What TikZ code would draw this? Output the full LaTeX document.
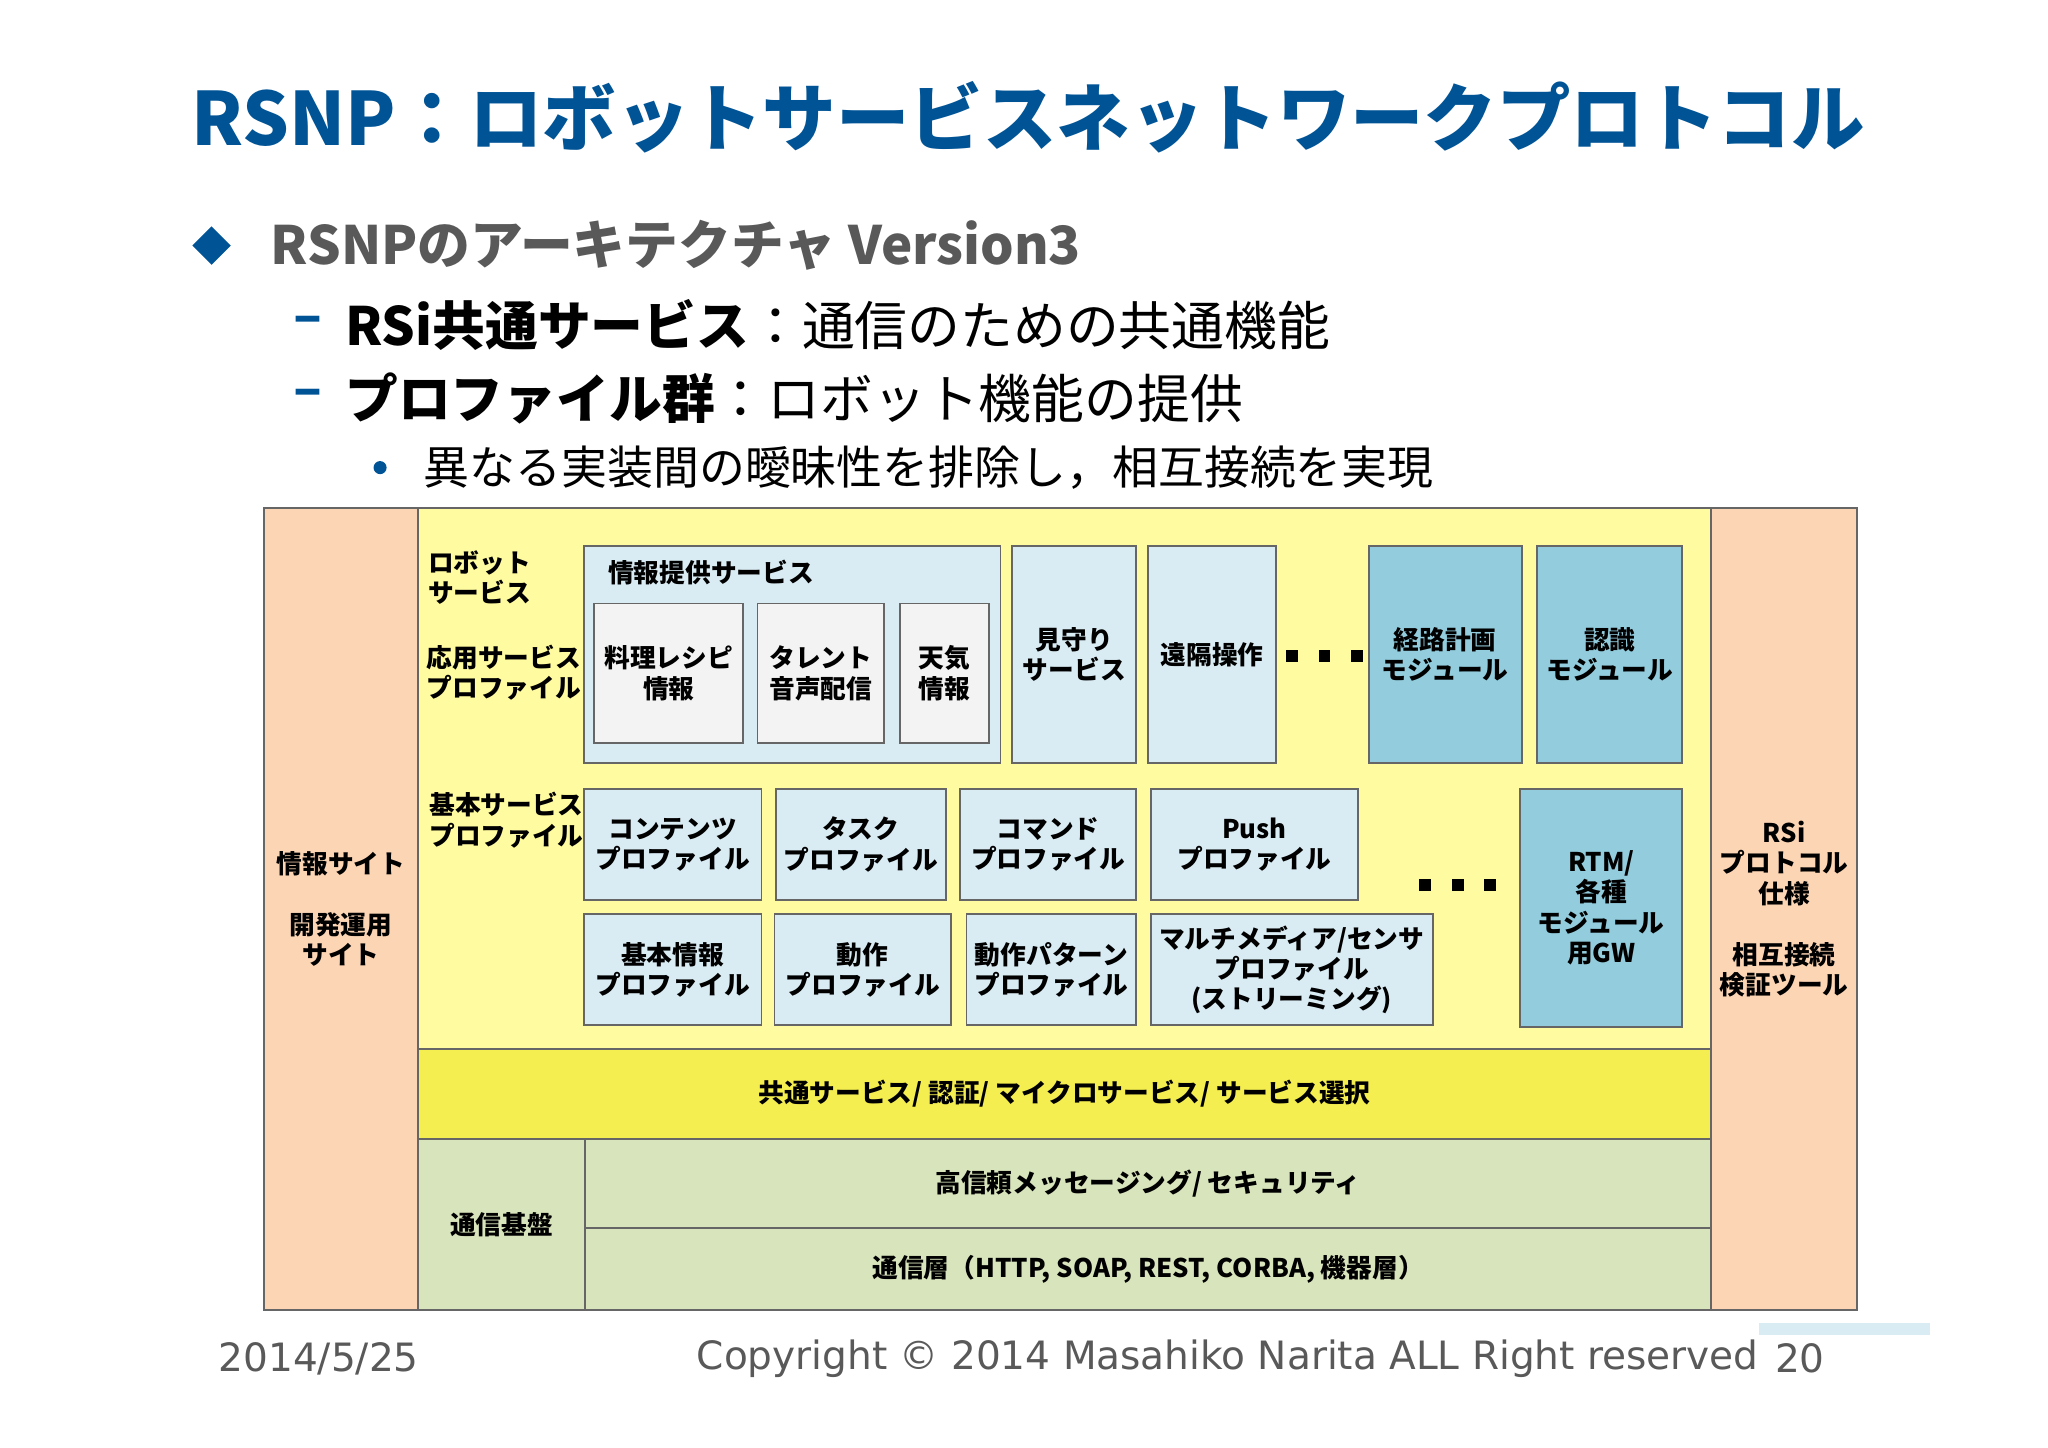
\documentclass[tikz,border=0pt]{standalone}
\usepackage{fontspec}
\usetikzlibrary{shapes.geometric}
\setmainfont{Noto Sans CJK JP}
\newfontfamily\dejavu{DejaVu Sans}
\definecolor{tblue}{RGB}{0,84,150}
\definecolor{orng}{RGB}{252,213,181}
\definecolor{ylw}{RGB}{255,251,160}
\definecolor{ylw2}{RGB}{244,238,80}
\definecolor{grn}{RGB}{216,228,188}
\definecolor{lblue}{RGB}{218,236,243}
\definecolor{dblue}{RGB}{146,204,221}
\definecolor{lgray}{RGB}{243,243,243}
\definecolor{txtgray}{RGB}{89,89,89}
\tikzset{
 bx/.style={draw=black!60,line width=0.4pt,align=center,font=\fontsize{5.6}{6.6}\selectfont\bfseries},
 lb/.style={align=left,anchor=north west,inner sep=0pt,font=\fontsize{5.6}{6.6}\selectfont\bfseries},
 ct/.style={align=center,inner sep=0pt,font=\fontsize{5.6}{6.6}\selectfont\bfseries},
}
\newcommand{\rb}[6]{\node[bx,fill=#5,minimum width=#3cm-#1cm,minimum height=#4cm-#2cm,inner sep=0pt] (#6) at ({(#1+#3)/2},{-(#2+#4)/2}) {};}
\begin{document}
\begin{tikzpicture}[x=1cm,y=1cm]
\useasboundingbox[fill=white] (0,0) rectangle (15.68,-11.08);
% title
\node[font=\fontsize{16}{18}\selectfont\bfseries,text=tblue] (title) at (7.87,-0.9) {RSNP：ロボットサービスネットワークプロトコル};
\node[fill=tblue,diamond,inner sep=0pt,minimum size=0.3cm,shape aspect=1] (dia) at (1.62,-1.88) {};
\node[anchor=west,font=\fontsize{11.5}{13}\selectfont\bfseries,text=txtgray] (t1) at (1.95,-1.88) {RSNPのアーキテクチャ Version3};
\node[anchor=west,font=\fontsize{11.5}{13}\selectfont\bfseries,text=tblue] (d1) at (2.12,-2.49) {–};
\node[anchor=west,font=\fontsize{11.5}{13}\selectfont] (t2) at (2.52,-2.49) {\textbf{RSi共通サービス}：通信のための共通機能};
\node[anchor=west,font=\fontsize{11.5}{13}\selectfont\bfseries,text=tblue] (d2) at (2.12,-3.05) {–};
\node[anchor=west,font=\fontsize{11.5}{13}\selectfont] (t3) at (2.52,-3.05) {\textbf{プロファイル群}：ロボット機能の提供};
\fill[tblue] (2.91,-3.58) circle (0.05);
\node[anchor=west,font=\fontsize{10}{12}\selectfont] (t4) at (3.12,-3.58) {異なる実装間の曖昧性を排除し，相互接続を実現};
% main frame
\rb{2.02}{3.89}{3.20}{10.03}{orng}{L}
\rb{13.10}{3.89}{14.22}{10.03}{orng}{R}
\rb{3.20}{3.89}{13.10}{8.03}{ylw}{Y}
\rb{3.20}{8.03}{13.10}{8.72}{ylw2}{Y2}
\rb{3.20}{8.72}{4.48}{10.03}{grn}{G0}
\rb{4.48}{8.72}{13.10}{9.40}{grn}{G1}
\rb{4.48}{9.40}{13.10}{10.03}{grn}{G2}
\node[ct] at (L) {情報サイト\\[1.2em]開発運用\\サイト};
\node[ct] at (R) {RSi\\プロトコル\\仕様\\[1.2em]相互接続\\検証ツール};
\node[ct] at (Y2) {共通サービス/ 認証/ マイクロサービス/ サービス選択};
\node[ct] at (G0) {通信基盤};
\node[ct] at (G1) {高信頼メッセージング/ セキュリティ};
\node[ct] at (G2) {通信層（HTTP, SOAP, REST, CORBA, 機器層）};
\node[lb] at (3.27,-4.21) {ロボット\\サービス};
\node[lb] at (3.26,-4.93) {応用サービス\\プロファイル};
\node[lb] at (3.28,-6.06) {基本サービス\\プロファイル};
% row 1
\rb{4.47}{4.18}{7.66}{5.84}{lblue}{info}
\node[lb] at (4.65,-4.28) {情報提供サービス};
\rb{4.55}{4.62}{5.69}{5.69}{lgray}{a1}\node[ct] at (a1) {料理レシピ\\情報};
\rb{5.80}{4.62}{6.77}{5.69}{lgray}{a2}\node[ct] at (a2) {タレント\\音声配信};
\rb{6.89}{4.62}{7.57}{5.69}{lgray}{a3}\node[ct] at (a3) {天気\\情報};
\rb{7.75}{4.18}{8.70}{5.84}{lblue}{a4}\node[ct] at (a4) {見守り\\サービス};
\rb{8.79}{4.18}{9.77}{5.84}{lblue}{a5}\node[ct] at (a5) {遠隔操作};
\foreach \x in {9.89,10.14,10.39} \fill (\x-0.045,-5.07) rectangle (\x+0.045,-4.98);
\rb{10.48}{4.18}{11.65}{5.84}{dblue}{a6}\node[ct] at (a6) {経路計画\\モジュール};
\rb{11.77}{4.18}{12.88}{5.84}{dblue}{a7}\node[ct] at (a7) {認識\\モジュール};
% row 2
\rb{4.47}{6.04}{5.83}{6.89}{lblue}{b1}\node[ct] at (b1) {コンテンツ\\プロファイル};
\rb{5.94}{6.04}{7.24}{6.89}{lblue}{b2}\node[ct] at (b2) {タスク\\プロファイル};
\rb{7.35}{6.04}{8.70}{6.89}{lblue}{b3}\node[ct] at (b3) {コマンド\\プロファイル};
\rb{8.81}{6.04}{10.40}{6.89}{lblue}{b4}\node[ct] at (b4) {Push\\プロファイル};
\foreach \x in {10.91,11.16,11.41} \fill (\x-0.045,-6.82) rectangle (\x+0.045,-6.73);
\rb{11.64}{6.04}{12.88}{7.86}{dblue}{b5}\node[ct] at (b5) {RTM/\\各種\\モジュール\\用GW};
% row 3
\rb{4.47}{7.00}{5.83}{7.85}{lblue}{c1}\node[ct] at (c1) {基本情報\\プロファイル};
\rb{5.93}{7.00}{7.28}{7.85}{lblue}{c2}\node[ct] at (c2) {動作\\プロファイル};
\rb{7.40}{7.00}{8.70}{7.85}{lblue}{c3}\node[ct] at (c3) {動作パターン\\プロファイル};
\rb{8.81}{7.00}{10.97}{7.85}{lblue}{c4}\node[ct] at (c4) {マルチメディア/センサ\\プロファイル\\(ストリーミング)};
% footer
\fill[lblue] (13.47,-10.13) rectangle (14.78,-10.22);
\node[font=\dejavu\fontsize{8.5}{10}\selectfont,text=txtgray] (f1) at (2.44,-10.40) {2014/5/25};
\node[font=\dejavu\fontsize{8.5}{10}\selectfont,text=txtgray] (f2) at (9.40,-10.40) {Copyright © 2014 Masahiko Narita ALL Right reserved};
\node[font=\dejavu\fontsize{8.5}{10}\selectfont,text=txtgray] (f3) at (13.78,-10.40) {20};
\end{tikzpicture}
\end{document}
